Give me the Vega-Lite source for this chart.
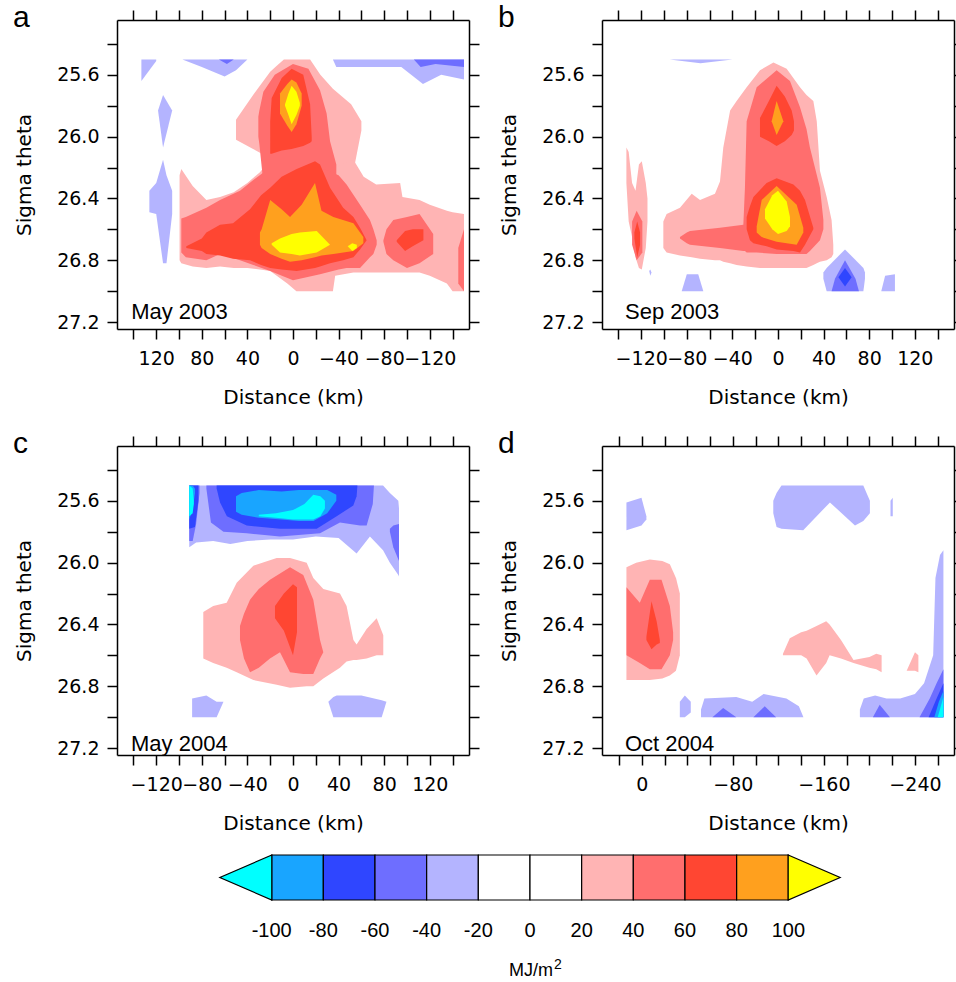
{
"$schema": "https://vega.github.io/schema/vega-lite/v6.json",
"background": "white",
"padding": {"left": 13, "top": 3, "right": 0, "bottom": 0},
"columns": 2,
"spacing": {"row": 117, "column": 133},
"bounds": "flush",
"datasets": {
"a": [
{"i":"a1","c":"p1","x":50,"t":25.89,"b":26.02},{"i":"a1","c":"p1","x":35,"t":25.73,"b":26.08},{"i":"a1","c":"p1","x":25,"t":25.63,"b":26.12},{"i":"a1","c":"p1","x":20,"t":25.58,"b":26.2},{"i":"a1","c":"p1","x":14,"t":25.54,"b":26.4},{"i":"a1","c":"p1","x":8,"t":25.5,"b":26.4},{"i":"a1","c":"p1","x":-15,"t":25.5,"b":26.5},{"i":"a1","c":"p1","x":-24,"t":25.6,"b":26.5},{"i":"a1","c":"p1","x":-35,"t":25.69,"b":26.5},{"i":"a1","c":"p1","x":-51,"t":25.79,"b":26.3},{"i":"a1","c":"p1","x":-60,"t":25.9,"b":25.96},
{"i":"a2","c":"p1","x":99.5,"t":26.25,"b":26.8},{"i":"a2","c":"p1","x":98,"t":26.21,"b":26.82},{"i":"a2","c":"p1","x":88,"t":26.32,"b":26.84},{"i":"a2","c":"p1","x":76,"t":26.41,"b":26.85},{"i":"a2","c":"p1","x":64,"t":26.39,"b":26.84},{"i":"a2","c":"p1","x":52,"t":26.36,"b":26.85},{"i":"a2","c":"p1","x":40,"t":26.3,"b":26.85},{"i":"a2","c":"p1","x":29,"t":26.23,"b":26.86},{"i":"a2","c":"p1","x":20,"t":26.15,"b":26.87},{"i":"a2","c":"p1","x":5,"t":26.2,"b":26.95},{"i":"a2","c":"p1","x":-3,"t":26.2,"b":27.0},{"i":"a2","c":"p1","x":-35,"t":26.2,"b":27.0},{"i":"a2","c":"p1","x":-37,"t":26.2,"b":26.9},{"i":"a2","c":"p1","x":-53,"t":26.15,"b":26.88},{"i":"a2","c":"p1","x":-62,"t":26.26,"b":26.88},{"i":"a2","c":"p1","x":-73,"t":26.31,"b":26.88},{"i":"a2","c":"p1","x":-94,"t":26.3,"b":26.88},{"i":"a2","c":"p1","x":-96,"t":26.39,"b":26.88},{"i":"a2","c":"p1","x":-111,"t":26.41,"b":26.88},{"i":"a2","c":"p1","x":-120,"t":26.44,"b":26.9},{"i":"a2","c":"p1","x":-135,"t":26.48,"b":26.95},{"i":"a2","c":"p1","x":-140,"t":26.49,"b":27.0},{"i":"a2","c":"p1","x":-150,"t":26.5,"b":27.0},
{"i":"a3","c":"p2","x":30.4,"t":25.87,"b":26.0},{"i":"a3","c":"p2","x":29.5,"t":25.83,"b":26.05},{"i":"a3","c":"p2","x":26,"t":25.71,"b":26.3},{"i":"a3","c":"p2","x":16,"t":25.6,"b":26.5},{"i":"a3","c":"p2","x":0,"t":25.53,"b":26.6},{"i":"a3","c":"p2","x":-13.5,"t":25.56,"b":26.6},{"i":"a3","c":"p2","x":-23.7,"t":25.7,"b":26.6},{"i":"a3","c":"p2","x":-29.5,"t":25.85,"b":26.6},{"i":"a3","c":"p2","x":-32.5,"t":26.03,"b":26.4},{"i":"a3","c":"p2","x":-38,"t":26.18,"b":26.3},
{"i":"a4","c":"p2","x":98,"t":26.53,"b":26.75},{"i":"a4","c":"p2","x":94,"t":26.52,"b":26.78},{"i":"a4","c":"p2","x":76,"t":26.46,"b":26.8},{"i":"a4","c":"p2","x":64,"t":26.41,"b":26.76},{"i":"a4","c":"p2","x":46.5,"t":26.35,"b":26.8},{"i":"a4","c":"p2","x":34.8,"t":26.28,"b":26.83},{"i":"a4","c":"p2","x":20,"t":26.2,"b":26.87},{"i":"a4","c":"p2","x":0,"t":26.2,"b":26.93},{"i":"a4","c":"p2","x":-23.7,"t":26.2,"b":26.89},{"i":"a4","c":"p2","x":-40,"t":26.25,"b":26.86},{"i":"a4","c":"p2","x":-47,"t":26.31,"b":26.85},{"i":"a4","c":"p2","x":-58.8,"t":26.44,"b":26.85},{"i":"a4","c":"p2","x":-67.5,"t":26.54,"b":26.78},{"i":"a4","c":"p2","x":-70.5,"t":26.6,"b":26.76},{"i":"a4","c":"p2","x":-73.4,"t":26.67,"b":26.7},
{"i":"a5","c":"p2","x":-79.3,"t":26.67,"b":26.68},{"i":"a5","c":"p2","x":-82,"t":26.6,"b":26.76},{"i":"a5","c":"p2","x":-88,"t":26.54,"b":26.8},{"i":"a5","c":"p2","x":-100,"t":26.52,"b":26.85},{"i":"a5","c":"p2","x":-111,"t":26.5,"b":26.82},{"i":"a5","c":"p2","x":-123,"t":26.63,"b":26.76},
{"i":"a6","c":"p2","x":-145,"t":26.72,"b":26.95},{"i":"a6","c":"p2","x":-150,"t":26.6,"b":27.0},
{"i":"a7","c":"p3","x":20,"t":25.9,"b":26.11},{"i":"a7","c":"p3","x":18.7,"t":25.75,"b":26.11},{"i":"a7","c":"p3","x":9.9,"t":25.62,"b":26.09},{"i":"a7","c":"p3","x":1.2,"t":25.56,"b":26.08},{"i":"a7","c":"p3","x":-9,"t":25.6,"b":26.06},{"i":"a7","c":"p3","x":-15,"t":25.79,"b":26.04},{"i":"a7","c":"p3","x":-16.4,"t":26.0,"b":26.03},
{"i":"a8","c":"p3","x":93.6,"t":26.71,"b":26.72},{"i":"a8","c":"p3","x":80,"t":26.66,"b":26.74},{"i":"a8","c":"p3","x":76,"t":26.62,"b":26.76},{"i":"a8","c":"p3","x":64,"t":26.57,"b":26.77},{"i":"a8","c":"p3","x":52.6,"t":26.56,"b":26.79},{"i":"a8","c":"p3","x":37.7,"t":26.47,"b":26.8},{"i":"a8","c":"p3","x":28,"t":26.38,"b":26.83},{"i":"a8","c":"p3","x":20,"t":26.33,"b":26.85},{"i":"a8","c":"p3","x":10,"t":26.26,"b":26.86},{"i":"a8","c":"p3","x":-3.2,"t":26.21,"b":26.87},{"i":"a8","c":"p3","x":-19.3,"t":26.16,"b":26.85},{"i":"a8","c":"p3","x":-23.7,"t":26.18,"b":26.84},{"i":"a8","c":"p3","x":-32.5,"t":26.33,"b":26.82},{"i":"a8","c":"p3","x":-44,"t":26.46,"b":26.8},{"i":"a8","c":"p3","x":-53,"t":26.52,"b":26.78},{"i":"a8","c":"p3","x":-58.8,"t":26.59,"b":26.73},{"i":"a8","c":"p3","x":-64.6,"t":26.67,"b":26.67},
{"i":"a9","c":"p3","x":-91,"t":26.67,"b":26.68},{"i":"a9","c":"p3","x":-98.3,"t":26.61,"b":26.74},{"i":"a9","c":"p3","x":-105,"t":26.6,"b":26.71},{"i":"a9","c":"p3","x":-114.4,"t":26.6,"b":26.67},
{"i":"a10","c":"p4","x":11.4,"t":25.72,"b":25.85},{"i":"a10","c":"p4","x":5,"t":25.66,"b":25.93},{"i":"a10","c":"p4","x":1.2,"t":25.63,"b":25.97},{"i":"a10","c":"p4","x":-3,"t":25.65,"b":25.92},{"i":"a10","c":"p4","x":-7.6,"t":25.72,"b":25.8},
{"i":"a11","c":"p4","x":29,"t":26.62,"b":26.7},{"i":"a11","c":"p4","x":27.5,"t":26.6,"b":26.72},{"i":"a11","c":"p4","x":20,"t":26.41,"b":26.76},{"i":"a11","c":"p4","x":10,"t":26.47,"b":26.79},{"i":"a11","c":"p4","x":2.6,"t":26.52,"b":26.81},{"i":"a11","c":"p4","x":-7.6,"t":26.44,"b":26.8},{"i":"a11","c":"p4","x":-19.3,"t":26.3,"b":26.78},{"i":"a11","c":"p4","x":-25,"t":26.48,"b":26.77},{"i":"a11","c":"p4","x":-35.4,"t":26.52,"b":26.76},{"i":"a11","c":"p4","x":-53,"t":26.56,"b":26.74},{"i":"a11","c":"p4","x":-61.7,"t":26.65,"b":26.69},
{"i":"a12","c":"p5","x":7,"t":25.79,"b":25.8},{"i":"a12","c":"p5","x":4,"t":25.72,"b":25.86},{"i":"a12","c":"p5","x":1.2,"t":25.67,"b":25.92},{"i":"a12","c":"p5","x":-3,"t":25.71,"b":25.86},{"i":"a12","c":"p5","x":-6,"t":25.78,"b":25.8},
{"i":"a13","c":"p5","x":18.7,"t":26.69,"b":26.7},{"i":"a13","c":"p5","x":11.4,"t":26.66,"b":26.75},{"i":"a13","c":"p5","x":1.2,"t":26.63,"b":26.76},{"i":"a13","c":"p5","x":-6,"t":26.62,"b":26.77},{"i":"a13","c":"p5","x":-20.8,"t":26.61,"b":26.75},{"i":"a13","c":"p5","x":-32.5,"t":26.7,"b":26.7},
{"i":"a14","c":"p5","x":-48,"t":26.71,"b":26.71},{"i":"a14","c":"p5","x":-52,"t":26.69,"b":26.74},{"i":"a14","c":"p5","x":-56,"t":26.7,"b":26.72},
{"i":"a15","c":"n1","x":133,"t":25.5,"b":25.64},{"i":"a15","c":"n1","x":120,"t":25.5,"b":25.51},
{"i":"a16","c":"n1","x":97,"t":25.5,"b":25.5},{"i":"a16","c":"n1","x":80,"t":25.5,"b":25.55},{"i":"a16","c":"n1","x":60,"t":25.5,"b":25.61},{"i":"a16","c":"n1","x":50,"t":25.5,"b":25.57},{"i":"a16","c":"n1","x":40,"t":25.5,"b":25.5},
{"i":"a17","c":"n1","x":-35,"t":25.5,"b":25.5},{"i":"a17","c":"n1","x":-38,"t":25.5,"b":25.55},{"i":"a17","c":"n1","x":-95,"t":25.5,"b":25.55},{"i":"a17","c":"n1","x":-114,"t":25.5,"b":25.66},{"i":"a17","c":"n1","x":-130,"t":25.5,"b":25.6},{"i":"a17","c":"n1","x":-150,"t":25.5,"b":25.63},
{"i":"a18","c":"n1","x":118.4,"t":25.83,"b":25.83},{"i":"a18","c":"n1","x":114,"t":25.73,"b":26.07},{"i":"a18","c":"n1","x":106,"t":25.83,"b":25.83},
{"i":"a19","c":"n1","x":126,"t":26.35,"b":26.49},{"i":"a19","c":"n1","x":120,"t":26.3,"b":26.5},{"i":"a19","c":"n1","x":114,"t":26.15,"b":26.82},{"i":"a19","c":"n1","x":111,"t":26.25,"b":26.82},{"i":"a19","c":"n1","x":106,"t":26.35,"b":26.5},
{"i":"a20","c":"n2","x":65,"t":25.5,"b":25.5},{"i":"a20","c":"n2","x":58,"t":25.5,"b":25.53},{"i":"a20","c":"n2","x":52,"t":25.5,"b":25.5},
{"i":"a21","c":"n2","x":-106,"t":25.5,"b":25.5},{"i":"a21","c":"n2","x":-112,"t":25.5,"b":25.55},{"i":"a21","c":"n2","x":-125,"t":25.5,"b":25.53},{"i":"a21","c":"n2","x":-150,"t":25.5,"b":25.55}
],
"b": [
{"i":"b1","c":"p1","x":-100.6,"t":26.55,"b":26.72},{"i":"b1","c":"p1","x":-97.7,"t":26.5,"b":26.75},{"i":"b1","c":"p1","x":-86,"t":26.46,"b":26.77},{"i":"b1","c":"p1","x":-75.7,"t":26.37,"b":26.78},{"i":"b1","c":"p1","x":-68.4,"t":26.41,"b":26.79},{"i":"b1","c":"p1","x":-55.3,"t":26.37,"b":26.8},{"i":"b1","c":"p1","x":-50.9,"t":26.29,"b":26.8},{"i":"b1","c":"p1","x":-48,"t":26.07,"b":26.81},{"i":"b1","c":"p1","x":-42,"t":25.83,"b":26.82},{"i":"b1","c":"p1","x":-36.3,"t":25.77,"b":26.83},{"i":"b1","c":"p1","x":-27.5,"t":25.68,"b":26.84},{"i":"b1","c":"p1","x":-15.8,"t":25.57,"b":26.85},{"i":"b1","c":"p1","x":-4,"t":25.52,"b":26.85},{"i":"b1","c":"p1","x":7.6,"t":25.56,"b":26.85},{"i":"b1","c":"p1","x":19.3,"t":25.68,"b":26.85},{"i":"b1","c":"p1","x":25,"t":25.73,"b":26.85},{"i":"b1","c":"p1","x":31,"t":25.77,"b":26.83},{"i":"b1","c":"p1","x":34,"t":25.9,"b":26.82},{"i":"b1","c":"p1","x":36.8,"t":26.22,"b":26.81},{"i":"b1","c":"p1","x":42.7,"t":26.39,"b":26.8},{"i":"b1","c":"p1","x":47,"t":26.54,"b":26.78},{"i":"b1","c":"p1","x":48.5,"t":26.7,"b":26.76},
{"i":"b2","c":"p1","x":-133,"t":26.07,"b":26.3},{"i":"b2","c":"p1","x":-131,"t":26.1,"b":26.55},{"i":"b2","c":"p1","x":-128,"t":26.3,"b":26.65},{"i":"b2","c":"p1","x":-125,"t":26.35,"b":26.78},{"i":"b2","c":"p1","x":-122,"t":26.18,"b":26.85},{"i":"b2","c":"p1","x":-119.5,"t":26.16,"b":26.86},{"i":"b2","c":"p1","x":-116,"t":26.3,"b":26.72},{"i":"b2","c":"p1","x":-114.5,"t":26.4,"b":26.55},
{"i":"b3","c":"p2","x":-86,"t":26.65,"b":26.66},{"i":"b3","c":"p2","x":-80,"t":26.62,"b":26.69},{"i":"b3","c":"p2","x":-77.2,"t":26.61,"b":26.7},{"i":"b3","c":"p2","x":-50.9,"t":26.59,"b":26.72},{"i":"b3","c":"p2","x":-30.4,"t":26.57,"b":26.74},{"i":"b3","c":"p2","x":-29,"t":26.33,"b":26.74},{"i":"b3","c":"p2","x":-27.5,"t":25.9,"b":26.75},{"i":"b3","c":"p2","x":-18.7,"t":25.68,"b":26.75},{"i":"b3","c":"p2","x":-1.2,"t":25.57,"b":26.76},{"i":"b3","c":"p2","x":10.5,"t":25.64,"b":26.76},{"i":"b3","c":"p2","x":19.3,"t":25.81,"b":26.76},{"i":"b3","c":"p2","x":25,"t":25.95,"b":26.76},{"i":"b3","c":"p2","x":28,"t":26.07,"b":26.74},{"i":"b3","c":"p2","x":36.8,"t":26.33,"b":26.67},{"i":"b3","c":"p2","x":39.8,"t":26.54,"b":26.6},
{"i":"b4","c":"p2","x":-128,"t":26.55,"b":26.7},{"i":"b4","c":"p2","x":-124,"t":26.48,"b":26.8},{"i":"b4","c":"p2","x":-119,"t":26.55,"b":26.75},
{"i":"b5","c":"p3","x":-15.8,"t":25.88,"b":26.0},{"i":"b5","c":"p3","x":-8,"t":25.77,"b":26.03},{"i":"b5","c":"p3","x":-1.2,"t":25.67,"b":26.06},{"i":"b5","c":"p3","x":6,"t":25.74,"b":26.03},{"i":"b5","c":"p3","x":12,"t":25.83,"b":25.99},{"i":"b5","c":"p3","x":14,"t":25.9,"b":25.96},
{"i":"b6","c":"p3","x":-27.5,"t":26.52,"b":26.6},{"i":"b6","c":"p3","x":-24.6,"t":26.45,"b":26.67},{"i":"b6","c":"p3","x":-21.6,"t":26.39,"b":26.69},{"i":"b6","c":"p3","x":-10,"t":26.3,"b":26.71},{"i":"b6","c":"p3","x":-1.2,"t":26.27,"b":26.73},{"i":"b6","c":"p3","x":13.5,"t":26.31,"b":26.74},{"i":"b6","c":"p3","x":19.3,"t":26.35,"b":26.75},{"i":"b6","c":"p3","x":23.7,"t":26.41,"b":26.7},{"i":"b6","c":"p3","x":31,"t":26.59,"b":26.6},
{"i":"b7","c":"p3","x":-126,"t":26.62,"b":26.66},{"i":"b7","c":"p3","x":-123.5,"t":26.55,"b":26.78},{"i":"b7","c":"p3","x":-121,"t":26.62,"b":26.7},
{"i":"b8","c":"p4","x":-5.6,"t":25.9,"b":25.9},{"i":"b8","c":"p4","x":-1.2,"t":25.77,"b":25.99},{"i":"b8","c":"p4","x":4.7,"t":25.9,"b":25.9},
{"i":"b9","c":"p4","x":-18.7,"t":26.58,"b":26.62},{"i":"b9","c":"p4","x":-14.3,"t":26.41,"b":26.65},{"i":"b9","c":"p4","x":-1.2,"t":26.32,"b":26.68},{"i":"b9","c":"p4","x":16.4,"t":26.44,"b":26.7},{"i":"b9","c":"p4","x":22.2,"t":26.59,"b":26.62},
{"i":"b10","c":"p5","x":-11.4,"t":26.47,"b":26.53},{"i":"b10","c":"p5","x":-5,"t":26.38,"b":26.6},{"i":"b10","c":"p5","x":0,"t":26.35,"b":26.63},{"i":"b10","c":"p5","x":7.6,"t":26.42,"b":26.61},{"i":"b10","c":"p5","x":10.5,"t":26.52,"b":26.58},
{"i":"b11","c":"n1","x":-95,"t":25.5,"b":25.5},{"i":"b11","c":"n1","x":-68,"t":25.5,"b":25.525},{"i":"b11","c":"n1","x":-40,"t":25.5,"b":25.5},
{"i":"b12","c":"n1","x":-84.5,"t":27.0,"b":27.0},{"i":"b12","c":"n1","x":-80,"t":26.89,"b":27.0},{"i":"b12","c":"n1","x":-70,"t":26.89,"b":27.0},{"i":"b12","c":"n1","x":-65.5,"t":27.0,"b":27.0},
{"i":"b13","c":"n1","x":-113,"t":26.87,"b":26.87},{"i":"b13","c":"n1","x":-112,"t":26.86,"b":26.9},{"i":"b13","c":"n1","x":-111,"t":26.88,"b":26.88},
{"i":"b14","c":"n1","x":39.8,"t":26.88,"b":26.92},{"i":"b14","c":"n1","x":42.7,"t":26.85,"b":27.0},{"i":"b14","c":"n1","x":58.8,"t":26.73,"b":27.0},{"i":"b14","c":"n1","x":74.9,"t":26.85,"b":27.0},{"i":"b14","c":"n1","x":76.3,"t":26.88,"b":26.92},
{"i":"b15","c":"n1","x":90.6,"t":27.0,"b":27.0},{"i":"b15","c":"n1","x":94,"t":26.9,"b":27.0},{"i":"b15","c":"n1","x":102.6,"t":26.89,"b":27.0},
{"i":"b16","c":"n2","x":47,"t":27.0,"b":27.0},{"i":"b16","c":"n2","x":50,"t":26.92,"b":27.0},{"i":"b16","c":"n2","x":58.8,"t":26.8,"b":27.0},{"i":"b16","c":"n2","x":68,"t":26.92,"b":27.0},{"i":"b16","c":"n2","x":71,"t":27.0,"b":27.0},
{"i":"b17","c":"n3","x":53,"t":26.91,"b":26.91},{"i":"b17","c":"n3","x":58.8,"t":26.85,"b":26.97},{"i":"b17","c":"n3","x":64.6,"t":26.91,"b":26.91}
],
"c": [
{"i":"c1","c":"p1","x":-78.7,"t":26.32,"b":26.62},{"i":"c1","c":"p1","x":-70,"t":26.28,"b":26.65},{"i":"c1","c":"p1","x":-58.2,"t":26.26,"b":26.68},{"i":"c1","c":"p1","x":-49.4,"t":26.13,"b":26.71},{"i":"c1","c":"p1","x":-34.8,"t":26.02,"b":26.76},{"i":"c1","c":"p1","x":-14.3,"t":25.97,"b":26.79},{"i":"c1","c":"p1","x":-2.6,"t":25.97,"b":26.81},{"i":"c1","c":"p1","x":12,"t":26.0,"b":26.8},{"i":"c1","c":"p1","x":17.8,"t":26.1,"b":26.8},{"i":"c1","c":"p1","x":26.6,"t":26.17,"b":26.75},{"i":"c1","c":"p1","x":41.2,"t":26.2,"b":26.68},{"i":"c1","c":"p1","x":47,"t":26.28,"b":26.64},{"i":"c1","c":"p1","x":53,"t":26.5,"b":26.63},{"i":"c1","c":"p1","x":55.8,"t":26.53,"b":26.63},{"i":"c1","c":"p1","x":64.6,"t":26.43,"b":26.62},{"i":"c1","c":"p1","x":73.4,"t":26.36,"b":26.6},{"i":"c1","c":"p1","x":79.2,"t":26.47,"b":26.6},
{"i":"c2","c":"p2","x":-46.5,"t":26.41,"b":26.5},{"i":"c2","c":"p2","x":-43,"t":26.33,"b":26.62},{"i":"c2","c":"p2","x":-37.7,"t":26.24,"b":26.71},{"i":"c2","c":"p2","x":-30,"t":26.17,"b":26.68},{"i":"c2","c":"p2","x":-20.2,"t":26.11,"b":26.62},{"i":"c2","c":"p2","x":-11.4,"t":26.07,"b":26.58},{"i":"c2","c":"p2","x":-2.6,"t":26.03,"b":26.71},{"i":"c2","c":"p2","x":9,"t":26.08,"b":26.72},{"i":"c2","c":"p2","x":17.8,"t":26.24,"b":26.72},{"i":"c2","c":"p2","x":23.7,"t":26.5,"b":26.62},{"i":"c2","c":"p2","x":26.6,"t":26.58,"b":26.58},
{"i":"c3","c":"p3","x":-15.8,"t":26.28,"b":26.36},{"i":"c3","c":"p3","x":-8,"t":26.2,"b":26.44},{"i":"c3","c":"p3","x":0,"t":26.14,"b":26.6},{"i":"c3","c":"p3","x":3.5,"t":26.16,"b":26.45},
{"i":"c4","c":"n1","x":-91,"t":25.5,"b":25.9},{"i":"c4","c":"n1","x":-85,"t":25.5,"b":25.87},{"i":"c4","c":"n1","x":-70,"t":25.5,"b":25.86},{"i":"c4","c":"n1","x":-55,"t":25.5,"b":25.88},{"i":"c4","c":"n1","x":-40,"t":25.5,"b":25.86},{"i":"c4","c":"n1","x":-20,"t":25.5,"b":25.85},{"i":"c4","c":"n1","x":0,"t":25.5,"b":25.85},{"i":"c4","c":"n1","x":20,"t":25.5,"b":25.83},{"i":"c4","c":"n1","x":40,"t":25.5,"b":25.84},{"i":"c4","c":"n1","x":55.8,"t":25.5,"b":25.94},{"i":"c4","c":"n1","x":67.5,"t":25.5,"b":25.83},{"i":"c4","c":"n1","x":79,"t":25.5,"b":25.92},{"i":"c4","c":"n1","x":85,"t":25.55,"b":26.0},{"i":"c4","c":"n1","x":92.4,"t":25.6,"b":26.08},{"i":"c4","c":"n1","x":93,"t":25.65,"b":26.09},
{"i":"c5","c":"n1","x":-88.5,"t":26.88,"b":27.0},{"i":"c5","c":"n1","x":-76,"t":26.86,"b":27.0},{"i":"c5","c":"n1","x":-67,"t":26.9,"b":27.0},{"i":"c5","c":"n1","x":-61,"t":26.9,"b":26.9},
{"i":"c6","c":"n1","x":31,"t":26.9,"b":26.9},{"i":"c6","c":"n1","x":35.4,"t":26.87,"b":27.0},{"i":"c6","c":"n1","x":38.3,"t":26.86,"b":27.0},{"i":"c6","c":"n1","x":60,"t":26.86,"b":27.0},{"i":"c6","c":"n1","x":77.8,"t":26.89,"b":27.0},{"i":"c6","c":"n1","x":82,"t":26.9,"b":26.9},
{"i":"c7","c":"n2","x":-76,"t":25.5,"b":25.52},{"i":"c7","c":"n2","x":-72,"t":25.5,"b":25.74},{"i":"c7","c":"n2","x":-61,"t":25.5,"b":25.8},{"i":"c7","c":"n2","x":-40.6,"t":25.5,"b":25.81},{"i":"c7","c":"n2","x":-11.4,"t":25.5,"b":25.83},{"i":"c7","c":"n2","x":23.7,"t":25.5,"b":25.81},{"i":"c7","c":"n2","x":41.2,"t":25.5,"b":25.74},{"i":"c7","c":"n2","x":58.8,"t":25.5,"b":25.76},{"i":"c7","c":"n2","x":64.6,"t":25.5,"b":25.76},{"i":"c7","c":"n2","x":70,"t":25.5,"b":25.62},{"i":"c7","c":"n2","x":71,"t":25.5,"b":25.5},
{"i":"c8","c":"n2","x":-91,"t":25.5,"b":25.86},{"i":"c8","c":"n2","x":-88,"t":25.5,"b":25.86},{"i":"c8","c":"n2","x":-85,"t":25.5,"b":25.75},{"i":"c8","c":"n2","x":-82,"t":25.5,"b":25.55},
{"i":"c9","c":"n2","x":85,"t":25.78,"b":25.8},{"i":"c9","c":"n2","x":88,"t":25.76,"b":25.9},{"i":"c9","c":"n2","x":93,"t":25.75,"b":25.99},
{"i":"c10","c":"n3","x":-67,"t":25.5,"b":25.52},{"i":"c10","c":"n3","x":-64,"t":25.5,"b":25.61},{"i":"c10","c":"n3","x":-58,"t":25.5,"b":25.7},{"i":"c10","c":"n3","x":-40.6,"t":25.5,"b":25.76},{"i":"c10","c":"n3","x":-11.4,"t":25.5,"b":25.78},{"i":"c10","c":"n3","x":20.8,"t":25.5,"b":25.78},{"i":"c10","c":"n3","x":38.3,"t":25.5,"b":25.7},{"i":"c10","c":"n3","x":52.9,"t":25.5,"b":25.63},{"i":"c10","c":"n3","x":55.8,"t":25.5,"b":25.57},{"i":"c10","c":"n3","x":56.5,"t":25.5,"b":25.5},
{"i":"c11","c":"n3","x":-91,"t":25.5,"b":25.78},{"i":"c11","c":"n3","x":-86,"t":25.5,"b":25.77},{"i":"c11","c":"n3","x":-83,"t":25.5,"b":25.6},
{"i":"c12","c":"n4","x":-50,"t":25.57,"b":25.67},{"i":"c12","c":"n4","x":-45,"t":25.55,"b":25.69},{"i":"c12","c":"n4","x":-30,"t":25.53,"b":25.71},{"i":"c12","c":"n4","x":-10,"t":25.54,"b":25.72},{"i":"c12","c":"n4","x":5,"t":25.53,"b":25.73},{"i":"c12","c":"n4","x":18,"t":25.53,"b":25.73},{"i":"c12","c":"n4","x":30,"t":25.53,"b":25.68},{"i":"c12","c":"n4","x":38,"t":25.56,"b":25.6},
{"i":"c13","c":"n4","x":-91,"t":25.5,"b":25.72},{"i":"c13","c":"n4","x":-88,"t":25.5,"b":25.65},{"i":"c13","c":"n4","x":-86,"t":25.52,"b":25.55},
{"i":"c14","c":"n5","x":-30,"t":25.69,"b":25.7},{"i":"c14","c":"n5","x":-15,"t":25.68,"b":25.71},{"i":"c14","c":"n5","x":0,"t":25.66,"b":25.72},{"i":"c14","c":"n5","x":10,"t":25.62,"b":25.72},{"i":"c14","c":"n5","x":17.8,"t":25.56,"b":25.72},{"i":"c14","c":"n5","x":24,"t":25.57,"b":25.7},{"i":"c14","c":"n5","x":28,"t":25.6,"b":25.65},
{"i":"c15","c":"n5","x":-91,"t":25.5,"b":25.7},{"i":"c15","c":"n5","x":-88,"t":25.52,"b":25.68},{"i":"c15","c":"n5","x":-87,"t":25.6,"b":25.62}
],
"d": [
{"i":"d1","c":"p1","x":13.5,"t":26.03,"b":26.76},{"i":"d1","c":"p1","x":5,"t":26.0,"b":26.76},{"i":"d1","c":"p1","x":-7,"t":25.98,"b":26.76},{"i":"d1","c":"p1","x":-18,"t":25.99,"b":26.75},{"i":"d1","c":"p1","x":-24.6,"t":26.01,"b":26.73},{"i":"d1","c":"p1","x":-30,"t":26.1,"b":26.7},{"i":"d1","c":"p1","x":-33.4,"t":26.2,"b":26.6},
{"i":"d2","c":"p1","x":-124,"t":26.59,"b":26.6},{"i":"d2","c":"p1","x":-130,"t":26.49,"b":26.6},{"i":"d2","c":"p1","x":-140,"t":26.45,"b":26.6},{"i":"d2","c":"p1","x":-144.8,"t":26.44,"b":26.62},{"i":"d2","c":"p1","x":-153.5,"t":26.41,"b":26.73},{"i":"d2","c":"p1","x":-162,"t":26.38,"b":26.65},{"i":"d2","c":"p1","x":-165,"t":26.4,"b":26.6},{"i":"d2","c":"p1","x":-175,"t":26.5,"b":26.62},{"i":"d2","c":"p1","x":-186,"t":26.63,"b":26.65},{"i":"d2","c":"p1","x":-200,"t":26.61,"b":26.68},{"i":"d2","c":"p1","x":-206,"t":26.59,"b":26.69},{"i":"d2","c":"p1","x":-210.7,"t":26.6,"b":26.71},
{"i":"d3","c":"p1","x":-232.7,"t":26.7,"b":26.7},{"i":"d3","c":"p1","x":-240,"t":26.58,"b":26.7},{"i":"d3","c":"p1","x":-243,"t":26.6,"b":26.71},
{"i":"d4","c":"p2","x":13.5,"t":26.16,"b":26.6},{"i":"d4","c":"p2","x":1.8,"t":26.26,"b":26.65},{"i":"d4","c":"p2","x":-7,"t":26.11,"b":26.69},{"i":"d4","c":"p2","x":-17.3,"t":26.11,"b":26.69},{"i":"d4","c":"p2","x":-24.6,"t":26.28,"b":26.6},{"i":"d4","c":"p2","x":-27.5,"t":26.45,"b":26.5},
{"i":"d5","c":"p3","x":-4,"t":26.48,"b":26.5},{"i":"d5","c":"p3","x":-8.5,"t":26.25,"b":26.56},{"i":"d5","c":"p3","x":-13,"t":26.38,"b":26.53},{"i":"d5","c":"p3","x":-15.8,"t":26.5,"b":26.52},
{"i":"d6","c":"n1","x":13.5,"t":25.61,"b":25.79},{"i":"d6","c":"n1","x":0.3,"t":25.58,"b":25.76},{"i":"d6","c":"n1","x":-4,"t":25.7,"b":25.72},
{"i":"d7","c":"n1","x":-115.5,"t":25.6,"b":25.68},{"i":"d7","c":"n1","x":-118.4,"t":25.55,"b":25.77},{"i":"d7","c":"n1","x":-122.7,"t":25.5,"b":25.78},{"i":"d7","c":"n1","x":-141.8,"t":25.5,"b":25.79},{"i":"d7","c":"n1","x":-165.3,"t":25.5,"b":25.61},{"i":"d7","c":"n1","x":-187.3,"t":25.5,"b":25.76},{"i":"d7","c":"n1","x":-194.6,"t":25.5,"b":25.73},{"i":"d7","c":"n1","x":-200.4,"t":25.6,"b":25.68},
{"i":"d8","c":"n1","x":-218.5,"t":25.6,"b":25.7},{"i":"d8","c":"n1","x":-220.5,"t":25.58,"b":25.7},
{"i":"d9","c":"n1","x":-191.6,"t":26.95,"b":27.0},{"i":"d9","c":"n1","x":-195,"t":26.88,"b":27.0},{"i":"d9","c":"n1","x":-205,"t":26.86,"b":27.0},{"i":"d9","c":"n1","x":-215,"t":26.88,"b":27.0},{"i":"d9","c":"n1","x":-227,"t":26.88,"b":27.0},{"i":"d9","c":"n1","x":-240,"t":26.85,"b":27.0},{"i":"d9","c":"n1","x":-248,"t":26.78,"b":27.0},{"i":"d9","c":"n1","x":-256,"t":26.6,"b":27.0},{"i":"d9","c":"n1","x":-258,"t":26.1,"b":27.0},{"i":"d9","c":"n1","x":-262,"t":25.95,"b":27.0},{"i":"d9","c":"n1","x":-265,"t":25.92,"b":27.0},
{"i":"d10","c":"n1","x":-52,"t":26.95,"b":27.0},{"i":"d10","c":"n1","x":-55,"t":26.88,"b":27.0},{"i":"d10","c":"n1","x":-83,"t":26.87,"b":27.0},{"i":"d10","c":"n1","x":-97,"t":26.9,"b":27.0},{"i":"d10","c":"n1","x":-107,"t":26.85,"b":27.0},{"i":"d10","c":"n1","x":-127,"t":26.88,"b":27.0},{"i":"d10","c":"n1","x":-138,"t":26.93,"b":27.0},{"i":"d10","c":"n1","x":-142,"t":27.0,"b":27.0},
{"i":"d11","c":"n1","x":-33.4,"t":26.9,"b":27.0},{"i":"d11","c":"n1","x":-37.8,"t":26.86,"b":27.0},{"i":"d11","c":"n1","x":-43,"t":26.9,"b":26.97},
{"i":"d12","c":"n2","x":-62,"t":27.0,"b":27.0},{"i":"d12","c":"n2","x":-71.5,"t":26.94,"b":27.0},{"i":"d12","c":"n2","x":-83,"t":27.0,"b":27.0},
{"i":"d13","c":"n2","x":-98,"t":27.0,"b":27.0},{"i":"d13","c":"n2","x":-108,"t":26.93,"b":27.0},{"i":"d13","c":"n2","x":-118,"t":27.0,"b":27.0},
{"i":"d14","c":"n2","x":-203,"t":27.0,"b":27.0},{"i":"d14","c":"n2","x":-209,"t":26.92,"b":27.0},{"i":"d14","c":"n2","x":-218,"t":27.0,"b":27.0},
{"i":"d15","c":"n2","x":-244,"t":27.0,"b":27.0},{"i":"d15","c":"n2","x":-253,"t":26.88,"b":27.0},{"i":"d15","c":"n2","x":-259,"t":26.78,"b":27.0},{"i":"d15","c":"n2","x":-265,"t":26.69,"b":27.0},
{"i":"d16","c":"n3","x":-252,"t":27.0,"b":27.0},{"i":"d16","c":"n3","x":-259,"t":26.88,"b":27.0},{"i":"d16","c":"n3","x":-265,"t":26.78,"b":27.0},
{"i":"d17","c":"n4","x":-257,"t":27.0,"b":27.0},{"i":"d17","c":"n4","x":-261,"t":26.9,"b":27.0},{"i":"d17","c":"n4","x":-265,"t":26.83,"b":27.0},
{"i":"d18","c":"n5","x":-260,"t":27.0,"b":27.0},{"i":"d18","c":"n5","x":-265,"t":26.87,"b":27.0}
],
"lg": [
{"lo":-100,"hi":-80,"c":"n4"},{"lo":-80,"hi":-60,"c":"n3"},{"lo":-60,"hi":-40,"c":"n2"},{"lo":-40,"hi":-20,"c":"n1"},{"lo":-20,"hi":0,"c":"w"},{"lo":0,"hi":20,"c":"w"},{"lo":20,"hi":40,"c":"p1"},{"lo":40,"hi":60,"c":"p2"},{"lo":60,"hi":80,"c":"p3"},{"lo":80,"hi":100,"c":"p4"}
],
"lab": [
{"v":-100,"s":"-100"},{"v":-80,"s":"-80"},{"v":-60,"s":"-60"},{"v":-40,"s":"-40"},{"v":-20,"s":"-20"},{"v":0,"s":"0"},{"v":20,"s":"20"},{"v":40,"s":"40"},{"v":60,"s":"60"},{"v":80,"s":"80"},{"v":100,"s":"100"}
]
},
"concat": [
{
"width": 352, "height": 309,
"title": {"text": "a", "anchor": "start", "frame": "group", "dx": -104, "dy": 48, "offset": 0, "baseline": "alphabetic", "font": "Liberation Sans", "fontSize": 30, "fontWeight": "normal", "color": "black"},
"layer": [
{"data": {"name": "a"},
"mark": {"type": "area", "interpolate": "linear", "opacity": 1},
"encoding": {
"x": {"field": "x", "type": "quantitative", "scale": {"domain": [-154.4, 154.4], "reverse": true, "nice": false, "zero": false},
"axis": {"orient": "bottom", "values": [140,120,100,80,60,40,20,0,-20,-40,-60,-80,-100,-120,-140], "labelExpr": "datum.value % 40 == 0 ? (datum.value < 0 ? '\u2212' + abs(datum.value) : '' + datum.value) : ''", "title": "Distance (km)", "labelPadding": 10, "titlePadding": 19}},
"y": {"field": "t", "type": "quantitative", "scale": {"domain": [25.245, 27.245], "reverse": true, "nice": false, "zero": false},
"axis": {"orient": "left", "values": [25.4,25.6,25.8,26.0,26.2,26.4,26.6,26.8,27.0,27.2], "labelExpr": "round(datum.value*10) % 4 == 0 ? format(datum.value, '.1f') : ''", "title": "Sigma theta", "labelPadding": 8, "titlePadding": 22}},
"y2": {"field": "b"},
"detail": {"field": "i"},
"color": {"field": "c", "type": "nominal", "scale": {"domain": ["p1","p2","p3","p4","p5","n1","n2","n3","n4","n5"], "range": ["#ffb4b4","#ff6e6e","#ff4632","#ffa01e","#ffff00","#b4b4ff","#6e6eff","#2f46ff","#19a5ff","#00ffff"]}, "legend": null}
}},
{"data": {"values": [{}]},
"mark": {"type": "text", "text": "May 2003", "font": "Liberation Sans", "fontSize": 22, "align": "left", "baseline": "alphabetic", "color": "black"},
"encoding": {
"x": {"datum": 142, "type": "quantitative", "scale": {"domain": [-154.4, 154.4], "reverse": true, "nice": false, "zero": false}, "axis": {"orient": "top", "values": [140,120,100,80,60,40,20,0,-20,-40,-60,-80,-100,-120,-140], "labels": false, "title": null}},
"y": {"datum": 27.18, "type": "quantitative", "scale": {"domain": [25.245, 27.245], "reverse": true, "nice": false, "zero": false}, "axis": {"orient": "right", "values": [25.4,25.6,25.8,26.0,26.2,26.4,26.6,26.8,27.0,27.2], "labels": false, "title": null}}
}}
],
"resolve": {"axis": {"x": "independent", "y": "independent"}}
},
{
"width": 352, "height": 309,
"title": {"text": "b", "anchor": "start", "frame": "group", "dx": -104, "dy": 48, "offset": 0, "baseline": "alphabetic", "font": "Liberation Sans", "fontSize": 30, "fontWeight": "normal", "color": "black"},
"layer": [
{"data": {"name": "b"},
"mark": {"type": "area", "interpolate": "linear", "opacity": 1},
"encoding": {
"x": {"field": "x", "type": "quantitative", "scale": {"domain": [-154.4, 154.4], "nice": false, "zero": false},
"axis": {"orient": "bottom", "values": [140,120,100,80,60,40,20,0,-20,-40,-60,-80,-100,-120,-140], "labelExpr": "datum.value % 40 == 0 ? (datum.value < 0 ? '\u2212' + abs(datum.value) : '' + datum.value) : ''", "title": "Distance (km)", "labelPadding": 10, "titlePadding": 19}},
"y": {"field": "t", "type": "quantitative", "scale": {"domain": [25.245, 27.245], "reverse": true, "nice": false, "zero": false},
"axis": {"orient": "left", "values": [25.4,25.6,25.8,26.0,26.2,26.4,26.6,26.8,27.0,27.2], "labelExpr": "round(datum.value*10) % 4 == 0 ? format(datum.value, '.1f') : ''", "title": "Sigma theta", "labelPadding": 8, "titlePadding": 22}},
"y2": {"field": "b"},
"detail": {"field": "i"},
"color": {"field": "c", "type": "nominal", "scale": {"domain": ["p1","p2","p3","p4","p5","n1","n2","n3","n4","n5"], "range": ["#ffb4b4","#ff6e6e","#ff4632","#ffa01e","#ffff00","#b4b4ff","#6e6eff","#2f46ff","#19a5ff","#00ffff"]}, "legend": null}
}},
{"data": {"values": [{}]},
"mark": {"type": "text", "text": "Sep 2003", "font": "Liberation Sans", "fontSize": 22, "align": "left", "baseline": "alphabetic", "color": "black"},
"encoding": {
"x": {"datum": -134.2, "type": "quantitative", "scale": {"domain": [-154.4, 154.4], "nice": false, "zero": false}, "axis": {"orient": "top", "values": [140,120,100,80,60,40,20,0,-20,-40,-60,-80,-100,-120,-140], "labels": false, "title": null}},
"y": {"datum": 27.18, "type": "quantitative", "scale": {"domain": [25.245, 27.245], "reverse": true, "nice": false, "zero": false}, "axis": {"orient": "right", "values": [25.4,25.6,25.8,26.0,26.2,26.4,26.6,26.8,27.0,27.2], "labels": false, "title": null}}
}}
],
"resolve": {"axis": {"x": "independent", "y": "independent"}}
},
{
"width": 352, "height": 309,
"title": {"text": "c", "anchor": "start", "frame": "group", "dx": -104, "dy": 48, "offset": 0, "baseline": "alphabetic", "font": "Liberation Sans", "fontSize": 30, "fontWeight": "normal", "color": "black"},
"layer": [
{"data": {"name": "c"},
"mark": {"type": "area", "interpolate": "linear", "opacity": 1},
"encoding": {
"x": {"field": "x", "type": "quantitative", "scale": {"domain": [-154.4, 154.4], "nice": false, "zero": false},
"axis": {"orient": "bottom", "values": [140,120,100,80,60,40,20,0,-20,-40,-60,-80,-100,-120,-140], "labelExpr": "datum.value % 40 == 0 ? (datum.value < 0 ? '\u2212' + abs(datum.value) : '' + datum.value) : ''", "title": "Distance (km)", "labelPadding": 10, "titlePadding": 19}},
"y": {"field": "t", "type": "quantitative", "scale": {"domain": [25.245, 27.245], "reverse": true, "nice": false, "zero": false},
"axis": {"orient": "left", "values": [25.4,25.6,25.8,26.0,26.2,26.4,26.6,26.8,27.0,27.2], "labelExpr": "round(datum.value*10) % 4 == 0 ? format(datum.value, '.1f') : ''", "title": "Sigma theta", "labelPadding": 8, "titlePadding": 22}},
"y2": {"field": "b"},
"detail": {"field": "i"},
"color": {"field": "c", "type": "nominal", "scale": {"domain": ["p1","p2","p3","p4","p5","n1","n2","n3","n4","n5"], "range": ["#ffb4b4","#ff6e6e","#ff4632","#ffa01e","#ffff00","#b4b4ff","#6e6eff","#2f46ff","#19a5ff","#00ffff"]}, "legend": null}
}},
{"data": {"values": [{}]},
"mark": {"type": "text", "text": "May 2004", "font": "Liberation Sans", "fontSize": 22, "align": "left", "baseline": "alphabetic", "color": "black"},
"encoding": {
"x": {"datum": -142.1, "type": "quantitative", "scale": {"domain": [-154.4, 154.4], "nice": false, "zero": false}, "axis": {"orient": "top", "values": [140,120,100,80,60,40,20,0,-20,-40,-60,-80,-100,-120,-140], "labels": false, "title": null}},
"y": {"datum": 27.219, "type": "quantitative", "scale": {"domain": [25.245, 27.245], "reverse": true, "nice": false, "zero": false}, "axis": {"orient": "right", "values": [25.4,25.6,25.8,26.0,26.2,26.4,26.6,26.8,27.0,27.2], "labels": false, "title": null}}
}}
],
"resolve": {"axis": {"x": "independent", "y": "independent"}}
},
{
"width": 352, "height": 309,
"title": {"text": "d", "anchor": "start", "frame": "group", "dx": -104, "dy": 48, "offset": 0, "baseline": "alphabetic", "font": "Liberation Sans", "fontSize": 30, "fontWeight": "normal", "color": "black"},
"layer": [
{"data": {"name": "d"},
"mark": {"type": "area", "interpolate": "linear", "opacity": 1},
"encoding": {
"x": {"field": "x", "type": "quantitative", "scale": {"domain": [-274.3, 35], "reverse": true, "nice": false, "zero": false},
"axis": {"orient": "bottom", "values": [20,0,-20,-40,-60,-80,-100,-120,-140,-160,-180,-200,-220,-240,-260], "labelExpr": "datum.value % 80 == 0 ? (datum.value < 0 ? '\u2212' + abs(datum.value) : '' + datum.value) : ''", "title": "Distance (km)", "labelPadding": 10, "titlePadding": 19}},
"y": {"field": "t", "type": "quantitative", "scale": {"domain": [25.245, 27.245], "reverse": true, "nice": false, "zero": false},
"axis": {"orient": "left", "values": [25.4,25.6,25.8,26.0,26.2,26.4,26.6,26.8,27.0,27.2], "labelExpr": "round(datum.value*10) % 4 == 0 ? format(datum.value, '.1f') : ''", "title": "Sigma theta", "labelPadding": 8, "titlePadding": 22}},
"y2": {"field": "b"},
"detail": {"field": "i"},
"color": {"field": "c", "type": "nominal", "scale": {"domain": ["p1","p2","p3","p4","p5","n1","n2","n3","n4","n5"], "range": ["#ffb4b4","#ff6e6e","#ff4632","#ffa01e","#ffff00","#b4b4ff","#6e6eff","#2f46ff","#19a5ff","#00ffff"]}, "legend": null}
}},
{"data": {"values": [{}]},
"mark": {"type": "text", "text": "Oct 2004", "font": "Liberation Sans", "fontSize": 22, "align": "left", "baseline": "alphabetic", "color": "black"},
"encoding": {
"x": {"datum": 14.8, "type": "quantitative", "scale": {"domain": [-274.3, 35], "reverse": true, "nice": false, "zero": false}, "axis": {"orient": "top", "values": [20,0,-20,-40,-60,-80,-100,-120,-140,-160,-180,-200,-220,-240,-260], "labels": false, "title": null}},
"y": {"datum": 27.219, "type": "quantitative", "scale": {"domain": [25.245, 27.245], "reverse": true, "nice": false, "zero": false}, "axis": {"orient": "right", "values": [25.4,25.6,25.8,26.0,26.2,26.4,26.6,26.8,27.0,27.2], "labels": false, "title": null}}
}}
],
"resolve": {"axis": {"x": "independent", "y": "independent"}}
},
{
"width": 352, "height": 100,
"layer": [
{"data": {"name": "lg"},
"mark": {"type": "rect", "stroke": "black", "strokeWidth": 1.2},
"encoding": {
"x": {"field": "lo", "type": "quantitative", "scale": {"domain": [-159.87, -23.61], "nice": false, "zero": false}, "axis": null},
"x2": {"field": "hi"},
"y": {"datum": 117, "type": "quantitative", "scale": {"domain": [0, 100], "nice": false, "zero": false}, "axis": null},
"y2": {"datum": 72},
"fill": {"field": "c", "type": "nominal", "scale": {"domain": ["n4","n3","n2","n1","w","p1","p2","p3","p4"], "range": ["#19a5ff","#2f46ff","#6e6eff","#b4b4ff","#ffffff","#ffb4b4","#ff6e6e","#ff4632","#ffa01e"]}, "legend": null}
}},
{"data": {"values": [{}]},
"mark": {"type": "point", "shape": "M 1 -0.866 L -1 0 L 1 0.866 Z", "size": 2700, "filled": true, "fill": "#00ffff", "stroke": "black", "strokeWidth": 1.2, "opacity": 1},
"encoding": {
"x": {"datum": -110, "type": "quantitative", "scale": {"domain": [-159.87, -23.61], "nice": false, "zero": false}, "axis": null},
"y": {"datum": 94.5, "type": "quantitative", "scale": {"domain": [0, 100], "nice": false, "zero": false}, "axis": null}
}},
{"data": {"values": [{}]},
"mark": {"type": "point", "shape": "M -1 -0.866 L 1 0 L -1 0.866 Z", "size": 2700, "filled": true, "fill": "#ffff00", "stroke": "black", "strokeWidth": 1.2, "opacity": 1},
"encoding": {
"x": {"datum": 110, "type": "quantitative", "scale": {"domain": [-159.87, -23.61], "nice": false, "zero": false}, "axis": null},
"y": {"datum": 94.5, "type": "quantitative", "scale": {"domain": [0, 100], "nice": false, "zero": false}, "axis": null}
}},
{"data": {"name": "lab"},
"mark": {"type": "text", "font": "Liberation Sans", "fontSize": 20, "align": "center", "baseline": "middle", "color": "black"},
"encoding": {
"x": {"field": "v", "type": "quantitative", "scale": {"domain": [-159.87, -23.61], "nice": false, "zero": false}, "axis": null},
"y": {"datum": 41, "type": "quantitative", "scale": {"domain": [0, 100], "nice": false, "zero": false}, "axis": null},
"text": {"field": "s", "type": "nominal"}
}},
{"data": {"values": [{}]},
"mark": {"type": "text", "text": "MJ/m", "font": "Liberation Sans", "fontSize": 18, "align": "right", "baseline": "alphabetic", "color": "black"},
"encoding": {
"x": {"datum": 8.9, "type": "quantitative", "scale": {"domain": [-159.87, -23.61], "nice": false, "zero": false}, "axis": null},
"y": {"datum": -4, "type": "quantitative", "scale": {"domain": [0, 100], "nice": false, "zero": false}, "axis": null}
}},
{"data": {"values": [{}]},
"mark": {"type": "text", "text": "2", "font": "Liberation Sans", "fontSize": 14, "align": "left", "baseline": "alphabetic", "color": "black"},
"encoding": {
"x": {"datum": 9.3, "type": "quantitative", "scale": {"domain": [-159.87, -23.61], "nice": false, "zero": false}, "axis": null},
"y": {"datum": 3, "type": "quantitative", "scale": {"domain": [0, 100], "nice": false, "zero": false}, "axis": null}
}}
]
}
],
"config": {
"view": {"stroke": null},
"axis": {"tickSize": 10, "tickWidth": 1.5, "tickColor": "black", "domainColor": "black", "domainWidth": 1.5, "labelFont": "DejaVu Sans", "labelFontSize": 19, "labelColor": "black", "labelOverlap": false, "labelFlush": false, "labelBound": false, "titleFont": "DejaVu Sans", "titleFontSize": 20, "titleFontWeight": "normal", "titleColor": "black", "grid": false}
}
}
